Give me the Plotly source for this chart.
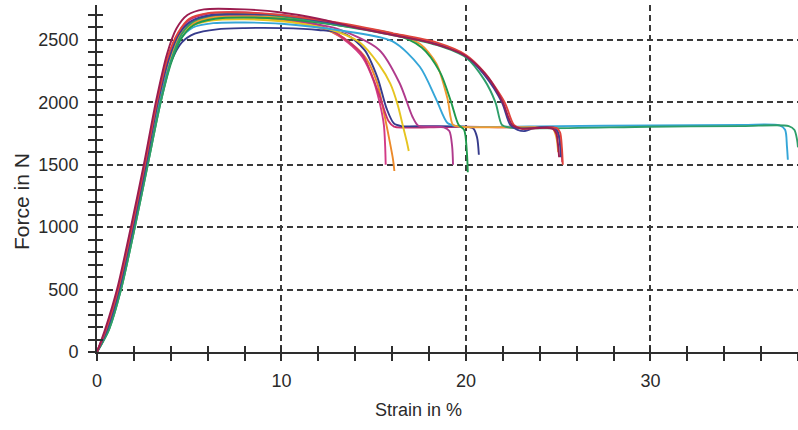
import plotly.graph_objects as go

# Tensile test specimens: strain (%) and force (N)
strain_s1 = [0, 0.5, 1.15, 1.9, 2.6, 3.25, 3.85, 4.35, 5.0, 6.0, 8.0, 10.0, 11.5, 12.6, 13.6, 14.4, 15.0, 15.35, 15.55, 15.62, 15.65]
force_s1 = [0, 180, 500, 1000, 1500, 2000, 2350, 2530, 2630, 2680, 2690, 2670, 2630, 2575, 2480, 2360, 2170, 1980, 1820, 1650, 1500]

strain_s2 = [0, 0.55, 1.2, 1.95, 2.65, 3.3, 3.9, 4.45, 5.1, 6.2, 8.0, 10.0, 11.5, 12.8, 13.8, 14.6, 15.2, 15.55, 15.85, 16.05, 16.12]
force_s2 = [0, 180, 500, 1000, 1500, 2000, 2340, 2520, 2620, 2670, 2680, 2660, 2620, 2560, 2470, 2350, 2150, 1920, 1700, 1540, 1450]

strain_s3 = [0, 0.5, 1.15, 1.9, 2.6, 3.25, 3.85, 4.4, 5.0, 6.0, 8.0, 10.0, 11.5, 12.6, 13.6, 14.4, 15.3, 15.8, 16.1, 16.6, 18.0, 20.0, 22.0, 24.0, 24.8, 25.05, 25.17, 25.22]
force_s3 = [0, 185, 505, 1005, 1505, 2005, 2360, 2550, 2660, 2710, 2720, 2690, 2640, 2585, 2490, 2380, 2060, 1850, 1805, 1798, 1800, 1805, 1800, 1798, 1785, 1720, 1620, 1520]

strain_s4 = [0, 0.6, 1.2, 1.95, 2.65, 3.35, 4.0, 4.6, 5.3, 6.5, 8.0, 10.0, 12.0, 13.5, 14.5, 15.2, 15.7, 16.1, 16.5, 18.0, 20.0, 20.4, 20.6, 20.7]
force_s4 = [0, 180, 500, 1000, 1500, 2000, 2320, 2480, 2550, 2585, 2595, 2595, 2580, 2545, 2420, 2200, 1950, 1830, 1810, 1810, 1805, 1790, 1720, 1580]

strain_s5 = [0, 0.55, 1.2, 1.95, 2.65, 3.3, 3.9, 4.45, 5.1, 6.2, 8.0, 10.0, 12.5, 14.25, 15.3, 15.9, 16.3, 16.6, 16.8, 16.9]
force_s5 = [0, 180, 500, 1000, 1500, 2000, 2340, 2520, 2610, 2655, 2665, 2650, 2590, 2480, 2300, 2150, 1980, 1800, 1680, 1610]

strain_s6 = [0, 0.5, 1.15, 1.9, 2.6, 3.25, 3.85, 4.4, 5.0, 6.0, 8.0, 10.0, 13.0, 15.3, 16.4, 17.1, 17.4, 18.0, 18.8, 19.1, 19.25, 19.3]
force_s6 = [0, 180, 500, 1000, 1500, 2000, 2350, 2540, 2640, 2690, 2700, 2670, 2590, 2420, 2155, 1885, 1815, 1805, 1800, 1770, 1650, 1500]

strain_s7 = [0, 0.6, 1.25, 2.0, 2.7, 3.4, 4.0, 4.55, 5.2, 6.3, 8.0, 10.0, 13.0, 16.0, 17.5, 18.4, 19.0, 19.5, 25.0, 30.0, 35.0, 37.0, 37.3, 37.4, 37.45]
force_s7 = [0, 180, 500, 1000, 1500, 2000, 2330, 2510, 2600, 2635, 2640, 2630, 2580, 2490, 2285, 2020, 1835, 1810, 1810, 1815, 1820, 1815, 1780, 1650, 1540]

strain_s8 = [0, 0.55, 1.2, 1.95, 2.65, 3.3, 3.9, 4.45, 5.1, 6.2, 8.0, 10.0, 13.0, 16.0, 17.5, 18.4, 19.0, 19.3, 19.7, 24.0, 24.7, 24.9, 25.0]
force_s8 = [0, 180, 500, 1000, 1500, 2000, 2340, 2530, 2630, 2680, 2690, 2680, 2620, 2550, 2470, 2310, 2030, 1820, 1805, 1800, 1790, 1720, 1600]

strain_s9 = [0, 0.65, 1.3, 2.05, 2.75, 3.45, 4.05, 4.6, 5.25, 6.4, 8.0, 10.0, 13.0, 16.0, 17.6, 18.6, 19.2, 19.6, 19.9, 20.05, 20.1]
force_s9 = [0, 180, 500, 1000, 1500, 2000, 2330, 2520, 2620, 2670, 2680, 2670, 2620, 2550, 2440, 2240, 2000, 1820, 1780, 1600, 1440]

strain_s10 = [0, 0.65, 1.3, 2.05, 2.75, 3.45, 4.05, 4.6, 5.25, 6.4, 8.0, 10.0, 13.0, 16.0, 18.4, 20.0, 21.0, 21.6, 21.95, 22.3, 30.0, 35.0, 37.5, 37.8, 37.95, 38.0]
force_s10 = [0, 180, 500, 1000, 1500, 2000, 2350, 2550, 2650, 2700, 2710, 2690, 2620, 2540, 2460, 2360, 2180, 2000, 1820, 1800, 1805, 1810, 1810, 1780, 1700, 1640]

strain_s11 = [0, 0.55, 1.2, 1.95, 2.65, 3.3, 3.9, 4.45, 5.1, 6.2, 8.0, 10.0, 13.0, 16.0, 18.4, 20.0, 21.0, 21.95, 22.4, 22.8, 23.2, 23.6, 24.0, 24.8, 25.0, 25.1, 25.15]
force_s11 = [0, 180, 500, 1000, 1500, 2000, 2350, 2550, 2650, 2700, 2705, 2700, 2630, 2550, 2470, 2370, 2220, 2000, 1820, 1780, 1770, 1790, 1800, 1795, 1760, 1660, 1560]

strain_s12 = [0, 0.5, 1.15, 1.9, 2.6, 3.25, 3.85, 4.4, 5.0, 6.0, 8.0, 10.0, 13.0, 16.0, 18.4, 20.0, 21.0, 22.1, 22.6, 23.0, 24.0, 24.9, 25.1, 25.2, 25.25]
force_s12 = [0, 185, 505, 1005, 1505, 2005, 2370, 2560, 2670, 2715, 2720, 2700, 2640, 2555, 2480, 2380, 2240, 2000, 1820, 1790, 1795, 1795, 1760, 1640, 1500]

strain_s13 = [0, 0.45, 1.1, 1.85, 2.55, 3.2, 3.8, 4.3, 4.9, 5.8, 8.0, 10.0, 12.0, 14.0, 16.0, 18.0, 20.0, 21.2, 22.0, 22.5, 23.0, 24.0, 24.7, 24.9, 25.0, 25.05]
force_s13 = [0, 185, 510, 1010, 1510, 2010, 2390, 2590, 2700, 2745, 2745, 2720, 2670, 2600, 2540, 2480, 2370, 2200, 2000, 1820, 1790, 1795, 1790, 1750, 1650, 1560]

specimen_names = ["Specimen 1", "Specimen 2", "Specimen 3", "Specimen 4", "Specimen 5",
                  "Specimen 6", "Specimen 7", "Specimen 8", "Specimen 9", "Specimen 10",
                  "Specimen 11", "Specimen 12", "Specimen 13"]
strains = [strain_s1, strain_s2, strain_s3, strain_s4, strain_s5, strain_s6, strain_s7,
           strain_s8, strain_s9, strain_s10, strain_s11, strain_s12, strain_s13]
forces = [force_s1, force_s2, force_s3, force_s4, force_s5, force_s6, force_s7,
          force_s8, force_s9, force_s10, force_s11, force_s12, force_s13]
colors = ["#d23a86", "#ec8a2a", "#c8306e", "#363b8c", "#e6c420", "#b03a8c", "#35a6d8",
          "#f29a30", "#1f9a4c", "#2e9e6a", "#3b3f93", "#e0443c", "#9b1d50"]

fig = go.Figure()
for i, (name, x, y, c) in enumerate(zip(specimen_names, strains, forces, colors)):
    on_overlay = i == len(strains) - 1
    fig.add_trace(go.Scatter(
        x=x, y=y, mode="lines", name=name, showlegend=False, hoverinfo="skip",
        line=dict(color=c, width=1.9, shape="spline", smoothing=0.8),
        xaxis="x2" if on_overlay else "x", yaxis="y2" if on_overlay else "y",
    ))

AX = "#2e2e2e"
X_RANGE = [0, 38]
Y_RANGE = [0, 2780]

fig.update_layout(
    width=798, height=430,
    margin=dict(l=97, r=0, t=5, b=78),
    paper_bgcolor="white", plot_bgcolor="white",
    font=dict(family="Liberation Sans, Arial, sans-serif", size=18, color="#2a2a2a"),
    xaxis=dict(
        range=X_RANGE, tick0=0, dtick=10, ticks="outside", ticklen=7, tickwidth=1.8,
        tickcolor=AX, showline=True, linecolor=AX, linewidth=2, zeroline=False,
        showgrid=True, gridcolor="#3a3a3a", gridwidth=1.5, griddash="6px,4px",
        ticklabelstandoff=4,
        minor=dict(dtick=2, tick0=0, ticks="outside", ticklen=7, tickwidth=1.6,
                   tickcolor=AX, showgrid=False),
    ),
    yaxis=dict(
        range=Y_RANGE, tick0=0, dtick=500, ticks="outside", ticklen=7, tickwidth=1.8,
        tickcolor=AX, showline=True, linecolor=AX, linewidth=2, zeroline=False,
        showgrid=True, gridcolor="#3a3a3a", gridwidth=1.5, griddash="6px,4px",
        ticklabelstandoff=6,
        minor=dict(dtick=100, tick0=0, ticks="outside", ticklen=7, tickwidth=1.6,
                   tickcolor=AX, showgrid=False),
    ),
    xaxis2=dict(
        range=X_RANGE, overlaying="x", anchor="y", side="bottom", tick0=0, dtick=10,
        ticks="inside", ticklen=6, tickwidth=1.8, tickcolor=AX, showticklabels=False,
        showline=False, showgrid=False, zeroline=False,
        minor=dict(dtick=2, tick0=0, ticks="inside", ticklen=6, tickwidth=1.6,
                   tickcolor=AX, showgrid=False),
    ),
    yaxis2=dict(
        range=Y_RANGE, overlaying="y", anchor="x", side="left", tick0=0, dtick=500,
        ticks="inside", ticklen=6, tickwidth=1.8, tickcolor=AX, showticklabels=False,
        showline=False, showgrid=False, zeroline=False,
        minor=dict(dtick=100, tick0=0, ticks="inside", ticklen=6, tickwidth=1.6,
                   tickcolor=AX, showgrid=False),
    ),
    annotations=[
        dict(text="Strain in %", xref="paper", yref="paper", x=0.459, y=-0.167,
             xanchor="center", yanchor="middle", showarrow=False,
             font=dict(size=18, color="#2a2a2a")),
        dict(text="Force in N", xref="paper", yref="paper", x=-0.108, y=0.433,
             xanchor="center", yanchor="middle", showarrow=False, textangle=-90,
             font=dict(size=21, color="#2a2a2a")),
    ],
)

fig.write_html("out.html")
